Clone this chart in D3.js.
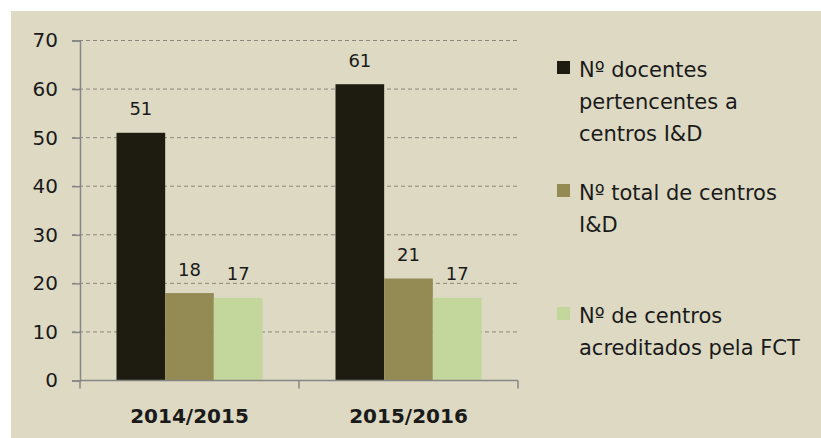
<!DOCTYPE html>
<html>
<head>
  <meta charset="utf-8">
  <script src="https://d3js.org/d3.v7.min.js"></script>
  <style>
    body { margin: 0; background: #fff; }
    .tick text { font-family: "DejaVu Sans", Verdana, sans-serif; }
  </style>
</head>
<body>
  <svg id="chart" width="821" height="438"></svg>
  <script>
    // data
    const years = ["2014/2015", "2015/2016"];
    const seriesNames = [
      "Nº docentes pertencentes a centros I&D",
      "Nº total de centros I&D",
      "Nº de centros acreditados pela FCT"
    ];
    // legend text broken into lines as in the picture
    const legendLines = [
      ["Nº docentes", "pertencentes a", "centros I&D"],
      ["Nº total de centros", "I&D"],
      ["Nº de centros", "acreditados pela FCT"]
    ];
    const docentes = [51, 61];
    const totalCentros = [18, 21];
    const centrosFCT = [17, 17];
    const yTicks = [0, 10, 20, 30, 40, 50, 60, 70];

    const colors = ["#1e1c11", "#948a54", "#c3d69b"];
    const seriesValues = [docentes, totalCentros, centrosFCT];

    const svg = d3.select("#chart");
    const font = '"DejaVu Sans", Verdana, sans-serif';

    // background panel
    svg.append("rect")
      .attr("x", 11).attr("y", 11)
      .attr("width", 810).attr("height", 427)
      .attr("fill", "#ddd9c3");

    const plot = { left: 80, right: 518, top: 40.5, bottom: 380.5 };

    const x0 = d3.scaleBand().domain(years).range([plot.left, plot.right]).paddingInner(1 / 3).paddingOuter(1 / 6);
    const x1 = d3.scaleBand().domain(d3.range(seriesNames.length)).range([0, x0.bandwidth()]);
    const y = d3.scaleLinear().domain([0, 70]).range([plot.bottom, plot.top]);

    // gridlines
    svg.append("g")
      .selectAll("line")
      .data(yTicks.filter(d => d > 0))
      .join("line")
      .attr("x1", plot.left - 8).attr("x2", plot.right)
      .attr("y1", d => y(d)).attr("y2", d => y(d))
      .attr("stroke", "#8a877a")
      .attr("stroke-width", 1)
      .attr("stroke-dasharray", "4,3");

    // bars
    const groups = svg.append("g")
      .selectAll("g")
      .data(years)
      .join("g")
      .attr("transform", d => `translate(${x0(d)},0)`);

    groups.selectAll("rect")
      .data((d, i) => seriesValues.map((s, k) => ({ k: k, v: s[i] })))
      .join("rect")
      .attr("x", d => x1(d.k))
      .attr("width", x1.bandwidth())
      .attr("y", d => y(d.v))
      .attr("height", d => y(0) - y(d.v))
      .attr("fill", d => colors[d.k]);

    groups.selectAll("text")
      .data((d, i) => seriesValues.map((s, k) => ({ k: k, v: s[i] })))
      .join("text")
      .attr("x", d => x1(d.k) + x1.bandwidth() / 2)
      .attr("y", d => y(d.v) - 17.5)
      .attr("text-anchor", "middle")
      .attr("font-family", font)
      .attr("font-size", 18)
      .attr("fill", "#1a1a1a")
      .text(d => d.v);

    // y axis
    const yAxis = svg.append("g")
      .attr("transform", `translate(${plot.left},0)`)
      .call(d3.axisLeft(y).tickValues(yTicks).tickSize(8).tickPadding(14));
    yAxis.select(".domain").attr("stroke", "#868686").attr("stroke-width", 1.5);
    yAxis.selectAll(".tick line").attr("stroke", "#868686").attr("stroke-width", 1.5);
    yAxis.selectAll(".tick text").attr("font-size", 20).attr("fill", "#1a1a1a");

    // x axis with ticks at the category boundaries
    const xAxis = svg.append("g")
      .attr("transform", `translate(0,${plot.bottom})`)
      .call(d3.axisBottom(x0).tickSize(0).tickPadding(28));
    xAxis.select(".domain").attr("d", `M${plot.left},0H${plot.right}`).attr("stroke", "#868686").attr("stroke-width", 1.5);
    xAxis.selectAll(".tick text")
      .attr("font-size", 20).attr("font-weight", "bold").attr("fill", "#1a1a1a");
    xAxis.append("g")
      .selectAll("line")
      .data([plot.left, (plot.left + plot.right) / 2, plot.right])
      .join("line")
      .attr("x1", d => d).attr("x2", d => d)
      .attr("y1", 0).attr("y2", 8)
      .attr("stroke", "#868686").attr("stroke-width", 1.5);

    // legend
    const legend = svg.append("g").attr("transform", "translate(557,61)");
    const entry = legend.selectAll("g")
      .data(legendLines)
      .join("g")
      .attr("transform", (d, i) => `translate(0,${i * 123})`);

    entry.append("rect")
      .attr("width", 13).attr("height", 13)
      .attr("fill", (d, i) => colors[i]);

    entry.append("text")
      .attr("font-family", font)
      .attr("font-size", 21)
      .attr("fill", "#1a1a1a")
      .selectAll("tspan")
      .data(d => d)
      .join("tspan")
      .attr("x", 22)
      .attr("y", (d, j) => 16 + j * 32)
      .text(d => d);
  </script>
</body>
</html>
